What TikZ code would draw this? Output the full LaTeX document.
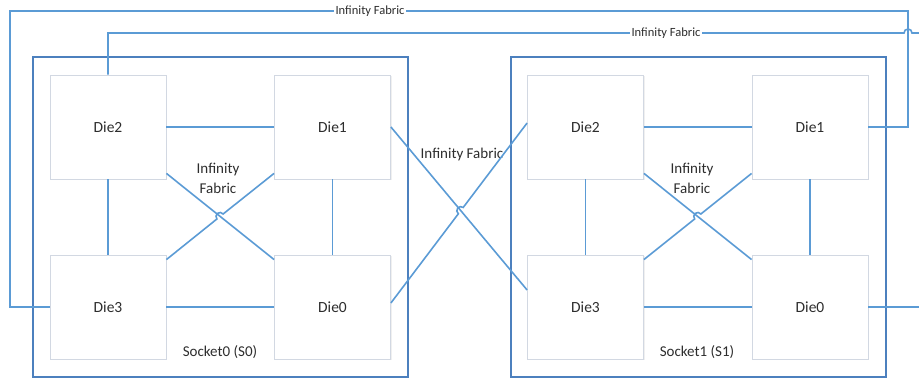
\documentclass[tikz,border=0pt]{standalone}
\usepackage{fontspec}
\setmainfont{Carlito}
\usetikzlibrary{shadows}
\definecolor{fabric}{RGB}{91,155,213}
\definecolor{sockblue}{RGB}{76,128,190}
\definecolor{dieline}{RGB}{210,216,226}
\definecolor{labelgray}{RGB}{45,45,45}

\begin{document}
\begin{tikzpicture}[x=1pt,y=1pt]
        \tikzstyle{die}=[draw=dieline,line width=0.8pt,fill=white,minimum width=116pt,minimum height=104pt,inner sep=0pt,
                drop shadow={opacity=0.12,shadow xshift=1.2pt,shadow yshift=-1.2pt},
                font=\fontsize{15.5}{18}\selectfont,text=labelgray]
        \tikzstyle{socket}=[draw=sockblue,line width=2pt,minimum width=375pt,minimum height=320pt,inner sep=0pt]
        \tikzstyle{link}=[draw=fabric,line width=1.6pt]
        \tikzstyle{lbl}=[font=\fontsize{15}{20}\selectfont,text=labelgray,align=center]
        \tikzstyle{small}=[font=\fontsize{12.5}{14}\selectfont,text=labelgray,fill=white,inner sep=1.5pt]

        \useasboundingbox (0,0) rectangle (919,379);

        % sockets
        \node[socket](s0) at (220.5,162){};
        \node[socket](s1) at (698.5,162){};

        % dies of socket 0
        \node[die](d2a) at (108,252){Die2};
        \node[die](d1a) at (332.5,252){Die1};
        \node[die](d3a) at (108,72){Die3};
        \node[die](d0a) at (332.5,72){Die0};

        % dies of socket 1
        \node[die](d2b) at (585.5,252){Die2};
        \node[die](d1b) at (810,252){Die1};
        \node[die](d3b) at (585.5,72){Die3};
        \node[die](d0b) at (810,72){Die0};

        \node[lbl](l0) at (220,27){Socket0 (S0)};
        \node[lbl](l1) at (697,27){Socket1 (S1)};
        \node[lbl](f0) at (218,201){Infinity\\Fabric};
        \node[lbl](f1) at (692,201){Infinity\\Fabric};
        \node[lbl](fm) at (462,224){Infinity Fabric};

        \coordinate (xa) at (220,162.5);
        \coordinate (xb) at (697.75,162.5);
        \coordinate (xm) at (460.8,168.4);
        \coordinate (c1) at (10,368);
        \coordinate (c2) at (908,368);
        \coordinate (hop) at (904,346);
        \coordinate (edge2) at (919,346);
        \coordinate (edge3) at (919,72);

        % inside socket 0
        \draw[link] (d2a) -- (d1a);
        \draw[link] (d3a) -- (d0a);
        \draw[link] (d2a) -- (d3a);
        \draw[link] (d1a) -- (d0a);
        \draw[link] ([yshift=6pt]d2a.south east) -- ([yshift=-5pt]d0a.north west);
        \draw[link] ([yshift=-5pt]d3a.north east) -- ([shift={(218.85:4pt)}]xa)
                arc[start angle=218.85,end angle=38.85,radius=4pt] -- ([yshift=6pt]d1a.south west);

        % inside socket 1
        \draw[link] (d2b) -- (d1b);
        \draw[link] (d3b) -- (d0b);
        \draw[link] (d2b) -- (d3b);
        \draw[link] (d1b) -- (d0b);
        \draw[link] ([yshift=6pt]d2b.south east) -- ([yshift=-5pt]d0b.north west);
        \draw[link] ([yshift=-5pt]d3b.north east) -- ([shift={(218.72:4pt)}]xb)
                arc[start angle=218.72,end angle=38.72,radius=4pt] -- ([yshift=6pt]d1b.south west);

        % between sockets
        \draw[link] (d1a.east) -- ([yshift=17pt]d3b.west);
        \draw[link] ([yshift=4pt]d0a.east) -- ([shift={(232.52:4pt)}]xm)
                arc[start angle=232.52,end angle=52.52,radius=4pt] -- ([yshift=4pt]d2b.west);

        % outer links
        \draw[link] (d3a.west) -| (c1) -- (c2) |- (d1b.east);
        \draw[link] (d2a.north) |- (hop) arc[start angle=180,end angle=0,radius=4pt] -- (edge2);
        \draw[link] (d0b.east) -- (edge3);

        \node[small](t1) at (370,368){Infinity Fabric};
        \node[small](t2) at (666,346){Infinity Fabric};

    \end{tikzpicture}
\end{document}
